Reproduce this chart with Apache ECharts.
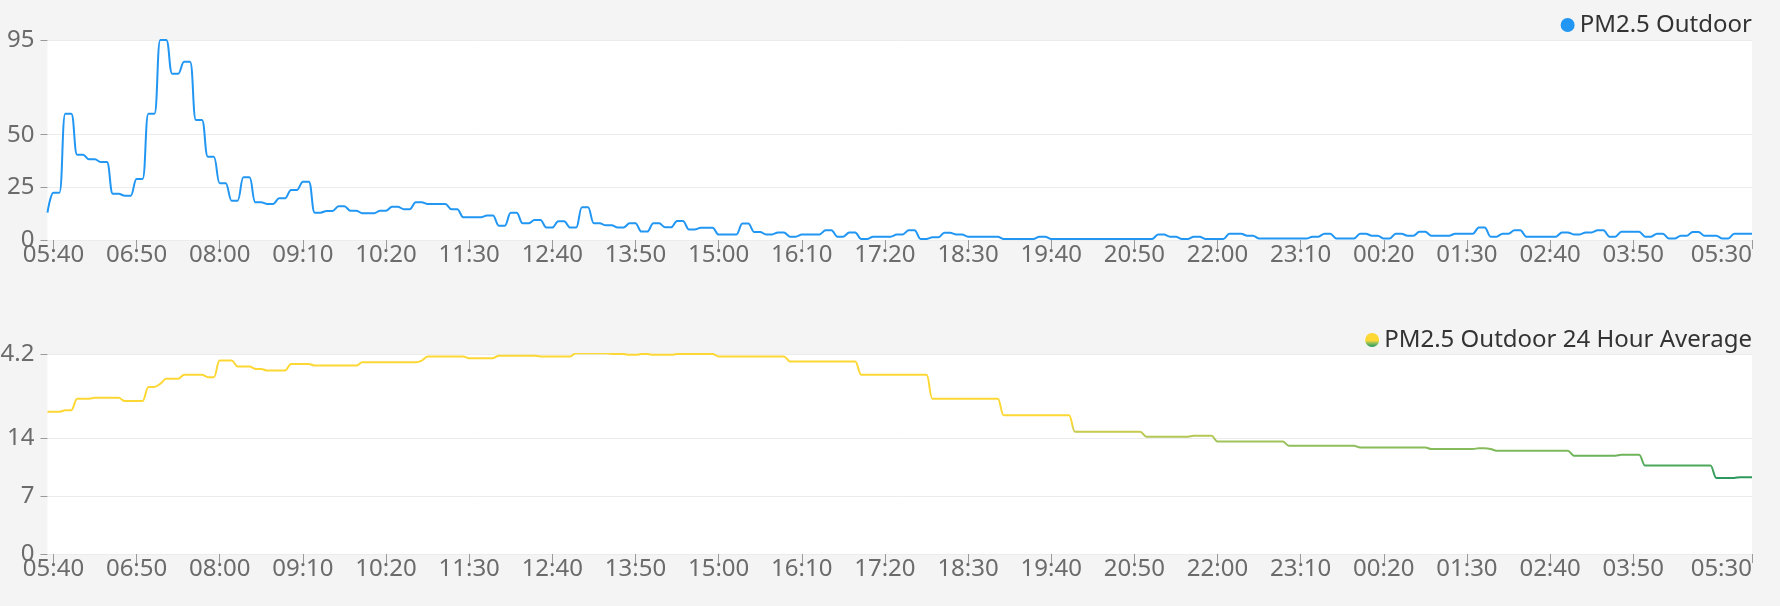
<!DOCTYPE html>
<html>
<head>
<meta charset="utf-8">
<script src="https://cdn.jsdelivr.net/npm/echarts@6/dist/echarts.min.js"></script>
<style>
  html, body { margin: 0; padding: 0; background: #f4f4f4; }
  #chart { width: 1780px; height: 606px; }
</style>
</head>
<body>
<div id="chart"></div>
<script>
// ---- axis: 5-minute readings from 05:35 to 05:30 next day ----
const startTime = '05:35';
const stepMinutes = 5;
const pointCount = 288;

// labels shown on the time axis
const timeTickLabels = ['05:40','06:50','08:00','09:10','10:20','11:30','12:40','13:50','15:00','16:10',
  '17:20','18:30','19:40','20:50','22:00','23:10','00:20','01:30','02:40','03:50','05:30'];

// y-axis tick values
const outdoorTicks = [0, 25, 50, 95];
const averageTicks = [0, 7, 14, 24.2];

const outdoorName = 'PM2.5 Outdoor';
const averageName = 'PM2.5 Outdoor 24 Hour Average';

// PM2.5 Outdoor (one row = one hour)
const pm25Outdoor = [
  13, 22.5, 22.5, 60, 60, 40.5, 40.5, 38.3, 38.3, 37, 37, 22,
  22, 21, 21, 29, 29, 60, 60, 95, 95, 79, 79, 84.7,
  84.7, 57, 57, 39.6, 39.6, 27, 27, 18.7, 18.7, 29.8, 29.8, 17.9,
  17.9, 17.1, 17.1, 19.8, 19.8, 23.8, 23.8, 27.7, 27.7, 13, 13, 13.8,
  13.8, 16, 16, 13.9, 13.9, 12.7, 12.7, 12.7, 13.9, 13.9, 15.8, 15.8,
  14.6, 14.6, 17.9, 17.9, 17.1, 17.1, 17.1, 17.1, 14.6, 14.6, 10.8, 10.8,
  10.8, 10.8, 11.6, 11.6, 6.8, 6.8, 12.9, 12.9, 7.9, 7.9, 9.5, 9.5,
  5.9, 5.9, 8.9, 8.9, 5.9, 5.9, 15.5, 15.5, 7.9, 7.9, 7, 7,
  5.9, 5.9, 7.9, 7.9, 4, 4, 7.9, 7.9, 6, 6, 9, 9,
  5, 5, 5.8, 5.8, 5.8, 2.6, 2.6, 2.6, 2.6, 7.8, 7.8, 3.8,
  3.8, 2.6, 2.6, 3.6, 3.6, 1.6, 1.6, 2.6, 2.6, 2.6, 2.6, 4.6,
  4.6, 1.6, 1.6, 3.6, 3.6, 0.5, 0.5, 1.6, 1.6, 1.6, 1.6, 2.6,
  2.6, 4.6, 4.6, 0.5, 0.5, 1.3, 1.3, 3.4, 3.4, 2.6, 2.6, 1.6,
  1.6, 1.6, 1.6, 1.6, 1.6, 0.5, 0.5, 0.5, 0.5, 0.5, 0.5, 1.6,
  1.6, 0.5, 0.5, 0.5, 0.5, 0.5, 0.5, 0.5, 0.5, 0.5, 0.5, 0.5,
  0.5, 0.5, 0.5, 0.5, 0.5, 0.5, 0.5, 2.6, 2.6, 1.6, 1.6, 0.5,
  0.5, 1.6, 1.6, 0.5, 0.5, 0.5, 0.5, 3, 3, 3, 2, 2,
  0.7, 0.7, 0.7, 0.7, 0.7, 0.7, 0.7, 0.7, 0.7, 1.6, 1.6, 3,
  3, 0.7, 0.7, 0.7, 0.7, 3, 3, 2, 2, 0.7, 0.7, 3,
  3, 2, 2, 3.9, 3.9, 2, 2, 2, 2, 3, 3, 3,
  3, 5.9, 5.9, 1.6, 1.6, 3, 3, 4.6, 4.6, 1.6, 1.6, 1.6,
  1.6, 1.6, 1.6, 3.6, 3.6, 2.6, 2.6, 3.6, 3.6, 4.6, 4.6, 1.6,
  1.6, 3.9, 3.9, 3.9, 3.9, 1.6, 1.6, 3, 3, 0.7, 0.7, 2,
  2, 3.8, 3.8, 2, 2, 2, 0.7, 0.7, 3, 3, 3, 3
];

// PM2.5 Outdoor 24 Hour Average (one row = one hour)
const pm25Average = [
  17.2, 17.2, 17.2, 17.4, 17.4, 18.8, 18.8, 18.8, 18.9, 18.9, 18.9, 18.9,
  18.9, 18.5, 18.5, 18.5, 18.5, 20.2, 20.2, 20.6, 21.2, 21.2, 21.2, 21.7,
  21.7, 21.7, 21.7, 21.4, 21.4, 23.4, 23.4, 23.4, 22.7, 22.7, 22.7, 22.4,
  22.4, 22.2, 22.2, 22.2, 22.2, 23, 23, 23, 23, 22.8, 22.8, 22.8,
  22.8, 22.8, 22.8, 22.8, 22.8, 23.2, 23.2, 23.2, 23.2, 23.2, 23.2, 23.2,
  23.2, 23.2, 23.2, 23.4, 23.9, 23.9, 23.9, 23.9, 23.9, 23.9, 23.9, 23.7,
  23.7, 23.7, 23.7, 23.7, 24, 24, 24, 24, 24, 24, 24, 23.9,
  23.9, 23.9, 23.9, 23.9, 23.9, 24.3, 24.3, 24.3, 24.3, 24.3, 24.3, 24.2,
  24.2, 24.2, 24.1, 24.1, 24.2, 24.2, 24.1, 24.1, 24.1, 24.1, 24.2, 24.2,
  24.2, 24.2, 24.2, 24.2, 24.2, 23.9, 23.9, 23.9, 23.9, 23.9, 23.9, 23.9,
  23.9, 23.9, 23.9, 23.9, 23.9, 23.3, 23.3, 23.3, 23.3, 23.3, 23.3, 23.3,
  23.3, 23.3, 23.3, 23.3, 23.3, 21.7, 21.7, 21.7, 21.7, 21.7, 21.7, 21.7,
  21.7, 21.7, 21.7, 21.7, 21.7, 18.8, 18.8, 18.8, 18.8, 18.8, 18.8, 18.8,
  18.8, 18.8, 18.8, 18.8, 18.8, 16.8, 16.8, 16.8, 16.8, 16.8, 16.8, 16.8,
  16.8, 16.8, 16.8, 16.8, 16.8, 14.8, 14.8, 14.8, 14.8, 14.8, 14.8, 14.8,
  14.8, 14.8, 14.8, 14.8, 14.8, 14.2, 14.2, 14.2, 14.2, 14.2, 14.2, 14.2,
  14.2, 14.3, 14.3, 14.3, 14.3, 13.6, 13.6, 13.6, 13.6, 13.6, 13.6, 13.6,
  13.6, 13.6, 13.6, 13.6, 13.6, 13.1, 13.1, 13.1, 13.1, 13.1, 13.1, 13.1,
  13.1, 13.1, 13.1, 13.1, 13.1, 12.9, 12.9, 12.9, 12.9, 12.9, 12.9, 12.9,
  12.9, 12.9, 12.9, 12.9, 12.9, 12.7, 12.7, 12.7, 12.7, 12.7, 12.7, 12.7,
  12.7, 12.8, 12.8, 12.7, 12.5, 12.5, 12.5, 12.5, 12.5, 12.5, 12.5, 12.5,
  12.5, 12.5, 12.5, 12.5, 12.5, 11.9, 11.9, 11.9, 11.9, 11.9, 11.9, 11.9,
  11.9, 12.0, 12.0, 12.0, 12.0, 10.7, 10.7, 10.7, 10.7, 10.7, 10.7, 10.7,
  10.7, 10.7, 10.7, 10.7, 10.7, 9.2, 9.2, 9.2, 9.2, 9.3, 9.3, 9.3
];

function buildTimes() {
  const [h0, m0] = startTime.split(':').map(Number);
  const out = [];
  for (let i = 0; i < pointCount; i++) {
    const t = (h0 * 60 + m0 + i * stepMinutes) % 1440;
    out.push(String(Math.floor(t / 60)).padStart(2, '0') + ':' + String(t % 60).padStart(2, '0'));
  }
  return out;
}
const times = buildTimes();
const labelSet = new Set(timeTickLabels);
const showTime = (idx, val) => labelSet.has(times[idx]);

const FONT = '"Noto Sans", "Open Sans", sans-serif';
const labelColor = '#6b6b6b';

const chart = echarts.init(document.getElementById('chart'), null, { renderer: 'canvas' });

const avgGradient = new echarts.graphic.LinearGradient(0, 0, 0, 1, [
  { offset: 0, color: '#fdd835' },
  { offset: 0.55, color: '#fdd835' },
  { offset: 0.63, color: '#c2c94e' },
  { offset: 0.7, color: '#9fc45a' },
  { offset: 0.8, color: '#6fb45b' },
  { offset: 0.9, color: '#45a45c' },
  { offset: 1, color: '#27965e' }
]);

function xAxisFor(gridIndex) {
  return {
    type: 'category', gridIndex, data: times, boundaryGap: false,
    axisLine: { show: false },
    axisTick: { show: true, interval: showTime, length: 9, lineStyle: { color: '#9a9a9a', width: 1 } },
    axisLabel: { interval: showTime, margin: 3, fontSize: 24, fontFamily: FONT, color: labelColor,
      alignMaxLabel: 'right' },
    splitLine: { show: false }
  };
}
function yAxisFor(gridIndex, ticks) {
  return {
    type: 'value', gridIndex, min: ticks[0], max: ticks[ticks.length - 1],
    axisLine: { show: false },
    axisTick: { show: true, length: 7, customValues: ticks, lineStyle: { color: '#9a9a9a' } },
    axisLabel: { customValues: ticks, margin: 13, fontSize: 24, fontFamily: FONT, color: labelColor },
    splitLine: { show: true, lineStyle: { color: '#ececec', width: 1 } }
  };
}

const option = {
  animation: false,
  backgroundColor: '#f4f4f4',
  grid: [
    { left: 47.5, right: 28, top: 40, height: 200, show: true, backgroundColor: '#ffffff', borderWidth: 0,
      containLabel: false, outerBoundsMode: 'none' },
    { left: 47.5, right: 28, top: 354, height: 200, show: true, backgroundColor: '#ffffff', borderWidth: 0,
      containLabel: false, outerBoundsMode: 'none' }
  ],
  legend: [
    { data: [outdoorName], right: 28, top: 13, padding: 0, icon: 'circle', itemWidth: 14, itemHeight: 14,
      textStyle: { fontSize: 24, fontFamily: FONT, color: '#333' } },
    { data: [averageName], right: 28, top: 328, padding: 0, icon: 'circle', itemWidth: 14, itemHeight: 14,
      textStyle: { fontSize: 24, fontFamily: FONT, color: '#333' } }
  ],
  xAxis: [xAxisFor(0), xAxisFor(1)],
  yAxis: [yAxisFor(0, outdoorTicks), yAxisFor(1, averageTicks)],
  series: [
    { name: outdoorName, type: 'line', xAxisIndex: 0, yAxisIndex: 0, data: pm25Outdoor,
      smooth: 0.3, showSymbol: false, color: '#2196f3', lineStyle: { width: 2, color: '#2196f3' } },
    { name: averageName, type: 'line', xAxisIndex: 1, yAxisIndex: 1, data: pm25Average,
      smooth: 0.3, showSymbol: false, color: avgGradient, lineStyle: { width: 2, color: avgGradient } }
  ]
};
chart.setOption(option);
</script>
</body>
</html>
